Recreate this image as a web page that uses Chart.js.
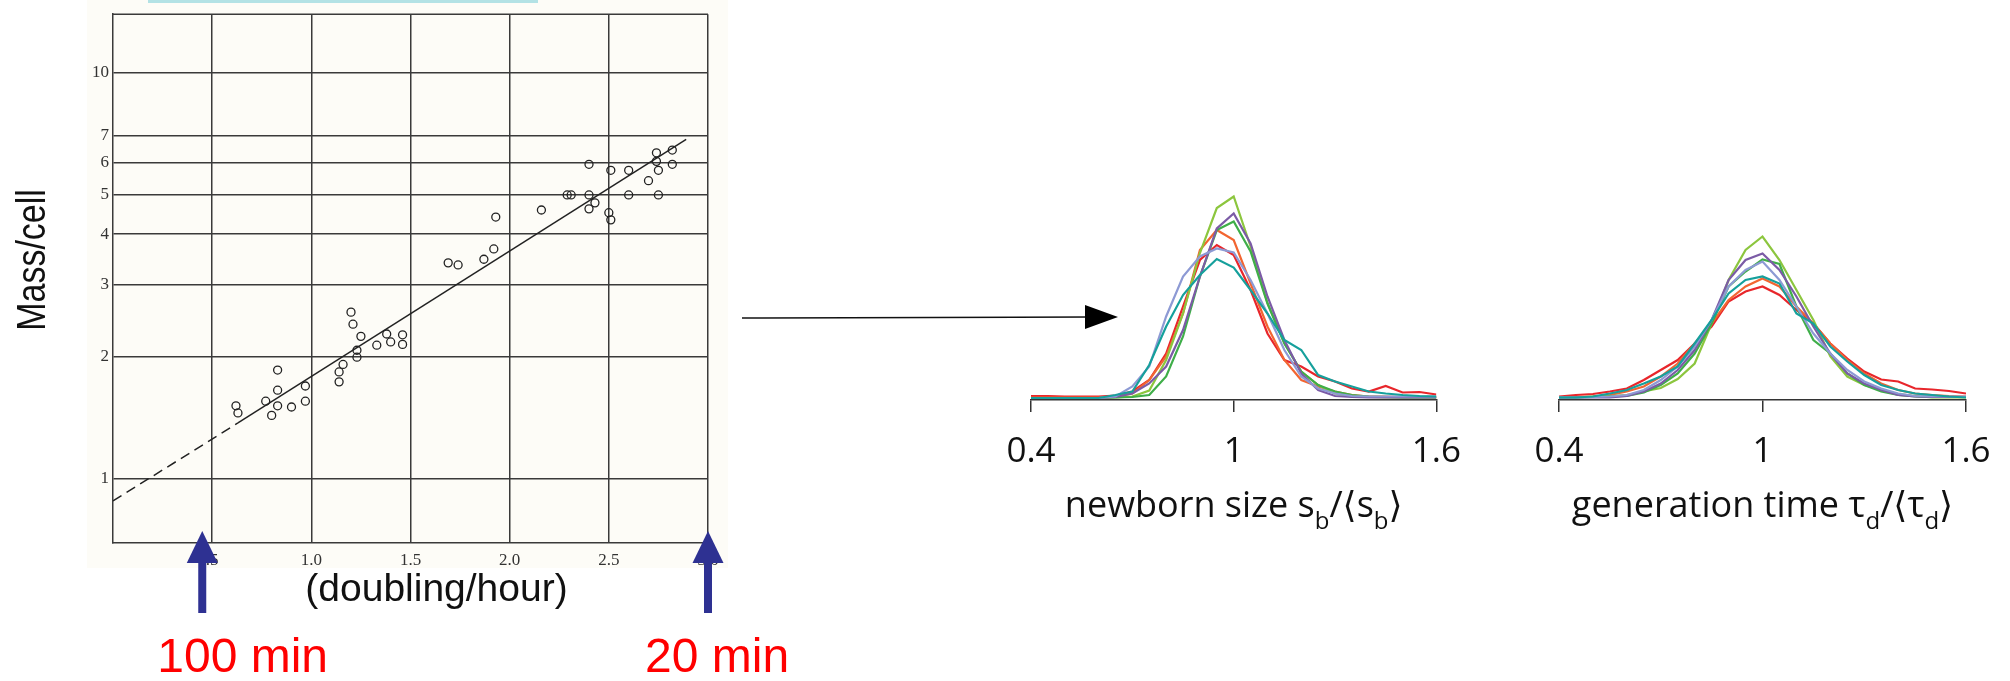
<!DOCTYPE html>
<html>
<head>
<meta charset="utf-8">
<script src="https://cdn.jsdelivr.net/npm/chart.js@4.4.0/dist/chart.umd.min.js"></script>
<style>
  html, body { margin: 0; padding: 0; background: #fff; }
  body { width: 2010px; height: 681px; position: relative; overflow: hidden; }
  canvas, svg { position: absolute; }
  #massChart { left: 0; top: 0; }
  #sizeChart { left: 980px; top: 130px; }
  #timeChart { left: 1510px; top: 130px; }
  #link { left: 0; top: 0; }
</style>
</head>
<body>
<canvas id="massChart" width="830" height="681"></canvas>
<svg id="link" width="2010" height="681">
  <line x1="742" y1="318" x2="1090" y2="317" stroke="#111" stroke-width="1.6"/>
  <polygon points="1085,305 1118,317 1085,329" fill="#000"/>
</svg>
<canvas id="sizeChart" width="500" height="420"></canvas>
<canvas id="timeChart" width="500" height="420"></canvas>
<script>
// left panel: mass per cell vs growth rate (log scale)
const growthRate = [0.62, 0.63, 0.77, 0.80, 0.83, 0.83, 0.83, 0.90, 0.97, 0.97,
  1.14, 1.14, 1.16, 1.20, 1.21, 1.25, 1.23, 1.23, 1.33, 1.38, 1.40, 1.46, 1.46,
  1.69, 1.74, 1.87, 1.92, 1.93,
  2.16, 2.29, 2.31, 2.40, 2.40, 2.40, 2.43, 2.51, 2.50, 2.51, 2.60, 2.60, 2.70,
  2.74, 2.74, 2.75, 2.75, 2.82, 2.82];
const massPerCell = [1.51, 1.45, 1.55, 1.43, 1.51, 1.65, 1.85, 1.50, 1.69, 1.55,
  1.83, 1.73, 1.91, 2.57, 2.40, 2.24, 2.07, 1.99, 2.13, 2.27, 2.17, 2.26, 2.14,
  3.40, 3.36, 3.47, 3.68, 4.41,
  4.59, 5.0, 5.0, 5.95, 5.0, 4.62, 4.78, 5.75, 4.52, 4.34, 5.75, 5.0, 5.42,
  6.35, 6.05, 5.75, 5.0, 6.45, 5.95];
const fitDashedX = [0, 0.63];
const fitDashedY = [0.88, 1.37];
const fitSolidX = [0.63, 2.89];
const fitSolidY = [1.37, 6.85];
const rateTicks = [0.5, 1.0, 1.5, 2.0, 2.5, 3.0];
const rateLabels = ['.5', '1.0', '1.5', '2.0', '2.5', '3.0'];
const massTicks = [1, 2, 3, 4, 5, 6, 7, 10];
const massLabels = ['1', '2', '3', '4', '5', '6', '7', '10'];
const arrowRates = [0.45, 3.0];
const arrowLabels = ['100 min', '20 min'];

// right panels: normalised distributions
const binCenters = [0.40, 0.45, 0.50, 0.55, 0.60, 0.65, 0.70, 0.75, 0.80, 0.85, 0.90, 0.95, 1.00,
  1.05, 1.10, 1.15, 1.20, 1.25, 1.30, 1.35, 1.40, 1.45, 1.50, 1.55, 1.60];
const distTicks = [0.4, 1, 1.6];
const distLabels = ['0.4', '1', '1.6'];

const sizeRed = [0.04,0.04,0.03,0.03,0.03,0.05,0.13,0.36,0.89,1.83,2.76,3.06,2.86,2.16,1.29,0.76,0.63,0.43,0.33,0.19,0.13,0.24,0.11,0.12,0.07];
const sizeOrange = [0.01,0.01,0.01,0.01,0.01,0.03,0.09,0.36,0.83,1.69,2.96,3.36,3.16,2.29,1.43,0.76,0.36,0.23,0.13,0.06,0.03,0.03,0.02,0.02,0.02];
const sizeLime = [0,0,0,0,0,0.01,0.03,0.15,0.76,1.69,2.90,3.80,4.03,3.03,1.90,1.10,0.53,0.26,0.09,0.03,0.02,0.01,0.01,0.01,0.01];
const sizeGreen = [0,0,0,0,0,0.01,0.02,0.06,0.43,1.23,2.43,3.36,3.53,2.93,1.89,1.09,0.53,0.26,0.13,0.06,0.03,0.02,0.01,0.01,0.01];
const sizePurple = [0,0,0,0,0,0.02,0.09,0.29,0.63,1.36,2.43,3.39,3.69,3.09,2.03,1.16,0.49,0.16,0.04,0.02,0.01,0.01,0.01,0.01,0.01];
const sizeLavender = [0,0,0,0,0,0.03,0.23,0.63,1.63,2.43,2.83,2.99,2.91,2.36,1.69,0.96,0.43,0.19,0.09,0.04,0.03,0.03,0.03,0.03,0.03];
const sizeTeal = [0,0,0,0,0,0.06,0.13,0.66,1.43,2.06,2.46,2.78,2.61,2.16,1.69,1.16,0.96,0.46,0.33,0.23,0.13,0.09,0.06,0.04,0.03];

const timeRed = [0.03,0.06,0.08,0.13,0.19,0.36,0.56,0.76,1.09,1.43,1.93,2.13,2.23,2.06,1.76,1.49,1.09,0.79,0.53,0.37,0.33,0.19,0.17,0.14,0.09];
const timeOrange = [0.01,0.02,0.03,0.06,0.13,0.23,0.43,0.69,1.09,1.49,1.96,2.23,2.39,2.23,1.83,1.49,1.09,0.76,0.49,0.29,0.16,0.09,0.06,0.04,0.03];
const timeLime = [0.01,0.01,0.03,0.04,0.06,0.13,0.20,0.38,0.69,1.49,2.36,2.96,3.23,2.76,2.16,1.56,0.83,0.43,0.26,0.16,0.08,0.04,0.01,0.01,0.01];
const timeGreen = [0.01,0.01,0.02,0.03,0.04,0.11,0.26,0.49,0.89,1.49,2.23,2.53,2.77,2.68,1.83,1.16,0.89,0.49,0.26,0.13,0.06,0.03,0.02,0.02,0.02];
const timePurple = [0.01,0.01,0.01,0.01,0.04,0.13,0.29,0.56,0.96,1.56,2.36,2.76,2.89,2.56,2.03,1.43,0.89,0.49,0.29,0.16,0.06,0.03,0.02,0.02,0.02];
const timeLavender = [0.01,0.01,0.02,0.03,0.06,0.16,0.36,0.63,1.03,1.56,2.23,2.56,2.73,2.36,1.83,1.29,0.89,0.56,0.33,0.19,0.09,0.04,0.03,0.03,0.03];
const timeTeal = [0.01,0.01,0.03,0.09,0.16,0.29,0.43,0.63,1.09,1.56,2.09,2.36,2.43,2.29,1.69,1.49,1.03,0.73,0.46,0.26,0.16,0.09,0.06,0.03,0.01];

const seriesColors = ['#16a09c', '#8d9ad4', '#7b5ba6', '#3fae49', '#8cc63e', '#f26531', '#e8262b'];

const serif = '"Liberation Serif", "DejaVu Serif", serif';
const sans = '"Liberation Sans", Arial, sans-serif';
const gridColor = '#3a3a3a';

const massDecor = {
  id: 'massDecor',
  beforeDraw(chart) {
    const c = chart.ctx;
    c.save();
    c.fillStyle = '#fdfcf7';
    c.fillRect(87, 0, 641, 568);
    c.fillStyle = '#b3e2e5';
    c.fillRect(148, 0, 390, 3);
    c.restore();
  },
  afterDraw(chart) {
    const c = chart.ctx, a = chart.chartArea, xs = chart.scales.x;
    c.save();
    // top frame line
    c.strokeStyle = gridColor;
    c.lineWidth = 1.5;
    c.beginPath();
    c.moveTo(a.left, a.top);
    c.lineTo(a.right, a.top);
    c.stroke();
    // axis titles
    c.fillStyle = '#111';
    c.textAlign = 'center';
    c.textBaseline = 'alphabetic';
    c.font = '39px ' + sans;
    c.fillText('(doubling/hour)', (a.left + a.right) / 2 + 26, 601);
    c.save();
    c.translate(45, 260);
    c.rotate(-Math.PI / 2);
    c.scale(0.85, 1);
    c.font = '40px ' + sans;
    c.fillText('Mass/cell', 0, 0);
    c.restore();
    // arrows + labels
    const shift = [-45, -63];
    arrowRates.forEach((r, i) => {
      const px = xs.getPixelForValue(r);
      const tip = a.bottom - 12;
      c.fillStyle = '#2e3192';
      c.beginPath();
      c.moveTo(px, tip);
      c.lineTo(px + 15.5, tip + 32);
      c.lineTo(px - 15.5, tip + 32);
      c.closePath();
      c.fill();
      c.fillRect(px - 4, tip + 31, 8, 51);
      c.fillStyle = '#ff0000';
      c.font = '48px ' + sans;
      c.textAlign = 'left';
      c.fillText(arrowLabels[i], px + shift[i], 672);
    });
    c.restore();
  }
};

new Chart(document.getElementById('massChart').getContext('2d'), {
  type: 'scatter',
  data: {
    datasets: [
      {
        data: growthRate.map((x, i) => ({ x: x, y: massPerCell[i] })),
        pointStyle: 'circle',
        pointRadius: 4,
        borderColor: '#222',
        borderWidth: 1.3,
        backgroundColor: 'rgba(0,0,0,0)'
      },
      {
        type: 'line',
        data: fitDashedX.map((x, i) => ({ x: x, y: fitDashedY[i] })),
        borderColor: '#222',
        borderWidth: 1.5,
        borderDash: [10, 6],
        pointRadius: 0,
        fill: false
      },
      {
        type: 'line',
        data: fitSolidX.map((x, i) => ({ x: x, y: fitSolidY[i] })),
        borderColor: '#222',
        borderWidth: 1.5,
        pointRadius: 0,
        fill: false
      }
    ]
  },
  options: {
    responsive: false,
    animation: false,
    layout: { padding: { top: 11, right: 122, left: 0, bottom: 0 } },
    plugins: { legend: { display: false }, tooltip: { enabled: false } },
    scales: {
      x: {
        type: 'linear',
        min: 0,
        max: 3,
        afterBuildTicks: s => { s.ticks = rateTicks.map(v => ({ value: v })); },
        afterFit: s => { s.height = 138; },
        grid: { color: gridColor, lineWidth: 1.5, drawTicks: false },
        border: { display: true, color: gridColor, width: 1.5 },
        ticks: {
          padding: 7,
          color: '#333',
          font: { family: serif, size: 17 },
          callback: v => rateLabels[rateTicks.indexOf(v)]
        }
      },
      y: {
        type: 'logarithmic',
        min: 0.693,
        max: 13.95,
        afterBuildTicks: s => { s.ticks = massTicks.map(v => ({ value: v })); },
        afterFit: s => { s.width = 113; },
        grid: { color: gridColor, lineWidth: 1.5, drawTicks: false },
        border: { display: true, color: gridColor, width: 1.5 },
        ticks: {
          padding: 4,
          color: '#333',
          font: { family: serif, size: 17 },
          callback: v => massLabels[massTicks.indexOf(v)]
        }
      }
    }
  },
  plugins: [massDecor]
});

function titleParts(chart, parts) {
  const c = chart.ctx;
  const main = '36px "Open Sans", "DejaVu Sans", sans-serif';
  const sub = '24px "Open Sans", "DejaVu Sans", sans-serif';
  c.save();
  let total = 0;
  parts.forEach(p => { c.font = p.sub ? sub : main; total += c.measureText(p.t).width; });
  let x = chart.scales.x.getPixelForValue(1) - total / 2;
  const y = 387;
  c.fillStyle = '#111';
  c.textAlign = 'left';
  c.textBaseline = 'alphabetic';
  parts.forEach(p => {
    c.font = p.sub ? sub : main;
    c.fillText(p.t, x, p.sub ? y + 12 : y);
    x += c.measureText(p.t).width;
  });
  c.restore();
}

function makeDist(id, series, parts, padLeft, padRight) {
  new Chart(document.getElementById(id).getContext('2d'), {
    type: 'line',
    data: {
      labels: binCenters,
      datasets: series.map((vals, i) => ({
        data: binCenters.map((x, j) => ({ x: x, y: vals[j] })),
        borderColor: seriesColors[i],
        borderWidth: 2.2,
        pointRadius: 0,
        tension: 0,
        fill: false
      }))
    },
    options: {
      responsive: false,
      animation: false,
      layout: { padding: { top: 20, left: padLeft, right: padRight, bottom: 0 } },
      plugins: { legend: { display: false }, tooltip: { enabled: false } },
      scales: {
        x: {
          type: 'linear',
          min: 0.4,
          max: 1.6,
          afterBuildTicks: s => { s.ticks = distTicks.map(v => ({ value: v })); },
          afterFit: s => { s.height = 150; },
          grid: { drawOnChartArea: false, drawTicks: true, tickLength: 12, color: '#333', lineWidth: 1.5 },
          border: { display: true, color: '#333', width: 1.5 },
          ticks: {
            padding: 19,
            color: '#111',
            maxRotation: 0,
            font: { family: '"Open Sans", sans-serif', size: 35 },
            callback: v => distLabels[distTicks.indexOf(v)]
          }
        },
        y: { display: false, min: -0.04, max: 4.96 }
      }
    },
    plugins: [{ id: 'distTitle', afterDraw: chart => titleParts(chart, parts) }]
  });
}

makeDist('sizeChart',
  [sizeTeal, sizeLavender, sizePurple, sizeGreen, sizeLime, sizeOrange, sizeRed],
  [{ t: 'newborn size s' }, { t: 'b', sub: true }, { t: '/⟨s' }, { t: 'b', sub: true }, { t: '⟩' }],
  51, 43);
makeDist('timeChart',
  [timeTeal, timeLavender, timePurple, timeGreen, timeLime, timeOrange, timeRed],
  [{ t: 'generation time τ' }, { t: 'd', sub: true }, { t: '/⟨τ' }, { t: 'd', sub: true }, { t: '⟩' }],
  49, 44);
</script>
</body>
</html>
